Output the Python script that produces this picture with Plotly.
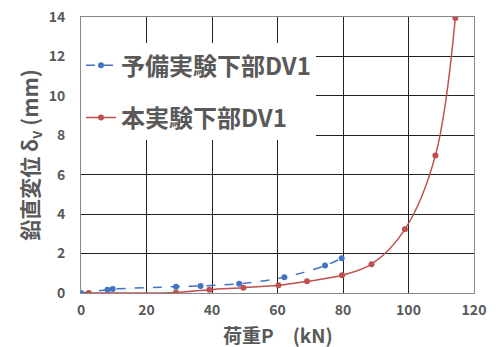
import plotly.graph_objects as go

# Data
pre_load = [0, 8.1, 9.7, 29.0, 36.5, 48.3, 62.1, 74.5, 79.6]
pre_disp = [0, 0.17, 0.20, 0.32, 0.36, 0.47, 0.80, 1.39, 1.76]
main_load = [2.4, 29.0, 39.2, 49.6, 60.3, 69.0, 79.7, 88.7, 98.9, 108.2, 114.3]
main_disp = [0.0, 0.03, 0.17, 0.27, 0.39, 0.59, 0.90, 1.46, 3.23, 6.97, 13.95]

x_ticks = [0, 20, 40, 60, 80, 100, 120]
y_ticks = [0, 2, 4, 6, 8, 10, 12, 14]

FONT = "Noto Sans CJK JP"
GREY = "#595959"

fig = go.Figure()
fig.add_trace(go.Scatter(
    x=pre_load, y=pre_disp, name="<b>予備実験下部DV1</b>", mode="lines+markers",
    line=dict(color="#4472C4", width=1.5, dash="dash", shape="spline"),
    marker=dict(color="#4472C4", size=6), legendgroup="a"))
fig.add_trace(go.Scatter(
    x=main_load, y=main_disp, name="<b>本実験下部DV1</b>", mode="lines+markers",
    line=dict(color="#C0504D", width=1.5, shape="spline"),
    marker=dict(color="#C0504D", size=6), legendgroup="b"))

fig.update_layout(
    width=499, height=347,
    margin=dict(l=81, r=25, t=17, b=54),
    paper_bgcolor="white", plot_bgcolor="white",
    font=dict(family=FONT, color=GREY),
    showlegend=True,
    legend=dict(x=0.0, y=0.905, xanchor="left", yanchor="top",
                bgcolor="white", font=dict(size=24, color=GREY, family=FONT),
                tracegroupgap=18, itemwidth=30, traceorder="grouped"),
    xaxis=dict(range=[0, 120], tickvals=x_ticks, ticktext=[f"<b>{v}</b>" for v in x_ticks],
               showgrid=True, gridcolor="#222222", gridwidth=1, automargin=False,
               showline=True, linecolor="#888888", mirror=True, zeroline=False,
               tickfont=dict(size=14, color=GREY, family=FONT), ticks="", ticklabelstandoff=4),
    yaxis=dict(range=[0, 14], tickvals=y_ticks, ticktext=[f"<b>{v}</b>" for v in y_ticks],
               showgrid=True, gridcolor="#222222", gridwidth=1, automargin=False,
               showline=True, linecolor="#888888", mirror=True, zeroline=False,
               tickfont=dict(size=14, color=GREY, family=FONT), ticks="", ticklabelstandoff=12,
               title=dict(text="<b>鉛直変位 δ<sub>v</sub> (mm)</b>", font=dict(size=21, color=GREY, family=FONT), standoff=4)),
    annotations=[dict(text="<b>荷重P　(kN)</b>", xref="paper", yref="paper", x=0.5, y=-0.15,
                      xanchor="center", yanchor="middle", showarrow=False,
                      font=dict(size=19, color=GREY, family=FONT))],
)
fig.write_html("out.html", config={"displayModeBar": False},
               post_script="document.body.style.margin='0';")
